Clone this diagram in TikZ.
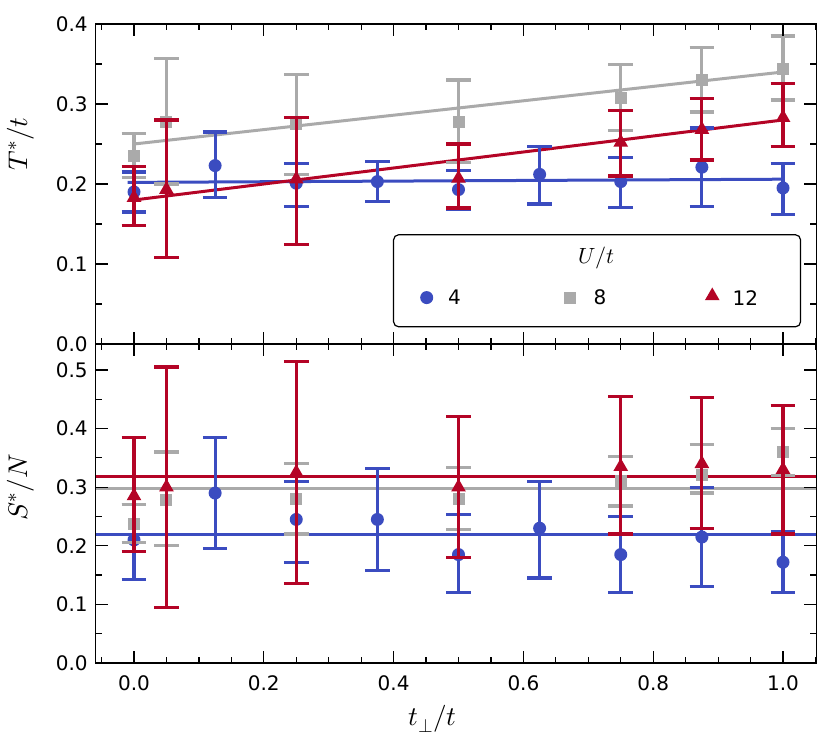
\documentclass[tikz,border=0pt]{standalone}
\usepackage{fontspec}
\setsansfont{DejaVu Sans}
\usepackage{unicode-math}
\usetikzlibrary{shapes.geometric}
\begin{document}
\begin{tikzpicture}[x=1pt,y=1pt,font=\sffamily\fontsize{20}{20}\selectfont]
\definecolor{cb}{RGB}{59,76,192}
\definecolor{cg}{RGB}{170,170,170}
\definecolor{cr}{RGB}{180,4,38}
\useasboundingbox (0,0) rectangle (831,755);
\tikzset{
  cmk/.style={circle,fill=cb,inner sep=0,minimum size=13pt},
  smk/.style={rectangle,fill=cg,inner sep=0,minimum size=12pt},
  tmk/.style={regular polygon,regular polygon sides=3,fill=cr,inner sep=0,minimum size=17pt},
  fitl/.style={line width=3pt},
  errl/.style={line width=3.2pt},
  axl/.style={font=\fontsize{27}{27}\selectfont},
}
\newcommand\eb[5]{\draw[errl,#1] (#2,#4)--(#2,#5) (#2-0.019,#4)--(#2+0.019,#4) (#2-0.019,#5)--(#2+0.019,#5);}
% ---------- top panel ----------
\begin{scope}[shift={(134,411)},x=649pt,y=800pt]
 \draw[fitl,cb] (-0.01,0.202)--(1.0,0.206);
 \draw[fitl,cg] (0,0.25)--(1.0,0.34);
 \draw[fitl,cr] (0,0.18)--(1.0,0.28);
 \foreach \x/\y/\l/\h in {0/0.19/0.165/0.215,0.125/0.223/0.183/0.265,0.25/0.201/0.172/0.226,0.375/0.203/0.178/0.228,0.5/0.193/0.168/0.217,0.625/0.212/0.175/0.247,0.75/0.203/0.171/0.233,0.875/0.221/0.172/0.27,1.0/0.195/0.162/0.226}
   {\eb{cb}{\x}{\y}{\l}{\h}\node[cmk] at (\x,\y) {};}
 \foreach \x/\y/\l/\h in {0/0.235/0.208/0.263,0.05/0.278/0.2/0.357,0.25/0.275/0.212/0.337,0.5/0.278/0.227/0.33,0.75/0.307/0.267/0.349,0.875/0.33/0.29/0.371,1.0/0.344/0.305/0.385}
   {\eb{cg}{\x}{\y}{\l}{\h}\node[smk] at (\x,\y) {};}
 \foreach \x/\y/\l/\h in {0/0.183/0.148/0.222,0.05/0.193/0.108/0.28,0.25/0.206/0.124/0.283,0.5/0.207/0.17/0.25,0.75/0.252/0.21/0.292,0.875/0.268/0.23/0.307,1.0/0.283/0.247/0.326}
   {\eb{cr}{\x}{\y}{\l}{\h}\node[tmk] at (\x,\y) {};}
 \draw[line width=1.2pt] (-0.059,0) rectangle (1.051,0.4);
 \foreach \v/\t in {0/0.0,0.1/0.1,0.2/0.2,0.3/0.3,0.4/0.4}{\draw[line width=1.2pt] (-0.059,\v)--++(12pt,0) (1.051,\v)--++(-12pt,0);
   \node[anchor=east] at (-0.066,\v) {\t};}
 \foreach \v in {0.05,0.15,0.25,0.35}{\draw[line width=1.2pt] (-0.059,\v)--++(6pt,0) (1.051,\v)--++(-6pt,0);}
 \foreach \v in {0,0.2,0.4,0.6,0.8,1.0}{\draw[line width=1.2pt] (\v,0)--++(0,12pt) (\v,0.4)--++(0,-12pt);}
 \foreach \v in {-0.05,0.05,0.1,0.15,0.25,0.3,0.35,0.45,0.5,0.55,0.65,0.7,0.75,0.85,0.9,0.95,1.05}{\draw[line width=1.2pt] (\v,0)--++(0,6pt) (\v,0.4)--++(0,-6pt);}
 \node[rotate=90,axl] at (-0.175,0.25) {$T^{*}/t$};
 % legend
 \draw[line width=1.2pt,rounded corners=5pt,fill=white] (0.4,0.0215) rectangle (1.027,0.1365);
 \node[font=\fontsize{22}{22}\selectfont] (lt) at (0.713,0.1075) {$U/t$};
 \node[cmk] (l1) at (0.451,0.058) {}; \node (l1t) at (0.494,0.058) {4};
 \node[smk] (l2) at (0.672,0.058) {}; \node (l2t) at (0.718,0.058) {8};
 \node[tmk] (l3) at (0.891,0.060) {}; \node (l3t) at (0.942,0.058) {12};
\end{scope}
% ---------- bottom panel ----------
\begin{scope}[shift={(134,92)},x=649pt,y=586pt]
 \draw[fitl,cb] (-0.059,0.22)--(1.051,0.22);
 \draw[fitl,cg] (-0.059,0.298)--(1.051,0.298);
 \draw[fitl,cr] (-0.059,0.318)--(1.051,0.318);
 \foreach \x/\y/\l/\h in {0/0.21/0.143/0.27,0.125/0.29/0.195/0.385,0.25/0.245/0.172/0.31,0.375/0.245/0.158/0.332,0.5/0.185/0.12/0.253,0.625/0.23/0.145/0.31,0.75/0.185/0.12/0.25,0.875/0.215/0.13/0.3,1.0/0.172/0.12/0.225}
   {\eb{cb}{\x}{\y}{\l}{\h}\node[cmk] at (\x,\y) {};}
 \foreach \x/\y/\l/\h in {0/0.237/0.205/0.27,0.05/0.278/0.2/0.36,0.25/0.28/0.22/0.34,0.5/0.28/0.228/0.333,0.75/0.31/0.268/0.352,0.875/0.32/0.29/0.373,1.0/0.36/0.32/0.4}
   {\eb{cg}{\x}{\y}{\l}{\h}\node[smk] at (\x,\y) {};}
 \foreach \x/\y/\l/\h in {0/0.285/0.19/0.385,0.05/0.3/0.095/0.505,0.25/0.325/0.135/0.515,0.5/0.3/0.18/0.42,0.75/0.335/0.22/0.455,0.875/0.34/0.23/0.453,1.0/0.33/0.22/0.44}
   {\eb{cr}{\x}{\y}{\l}{\h}\node[tmk] at (\x,\y) {};}
 \draw[line width=1.2pt] (-0.059,0) rectangle (1.051,0.5444);
 \foreach \v/\t in {0/0.0,0.1/0.1,0.2/0.2,0.3/0.3,0.4/0.4,0.5/0.5}{\draw[line width=1.2pt] (-0.059,\v)--++(12pt,0) (1.051,\v)--++(-12pt,0);
   \node[anchor=east] at (-0.066,\v) {\t};}
 \foreach \v in {0.05,0.15,0.25,0.35,0.45}{\draw[line width=1.2pt] (-0.059,\v)--++(6pt,0) (1.051,\v)--++(-6pt,0);}
 \foreach \v/\t in {0/0.0,0.2/0.2,0.4/0.4,0.6/0.6,0.8/0.8,1.0/1.0}{\draw[line width=1.2pt] (\v,0)--++(0,12pt) (\v,0.5444)--++(0,-12pt);
   \node[anchor=north] at (\v,-0.015) {\t};}
 \foreach \v in {-0.05,0.05,0.1,0.15,0.25,0.3,0.35,0.45,0.5,0.55,0.65,0.7,0.75,0.85,0.9,0.95,1.05}{\draw[line width=1.2pt] (\v,0)--++(0,6pt) (\v,0.5444)--++(0,-6pt);}
 \node[rotate=90,axl] at (-0.175,0.3) {$S^{*}/N$};
 \node[axl] at (0.46,-0.095) {$t_{\perp}/t$};
\end{scope}
\end{tikzpicture}
\end{document}
